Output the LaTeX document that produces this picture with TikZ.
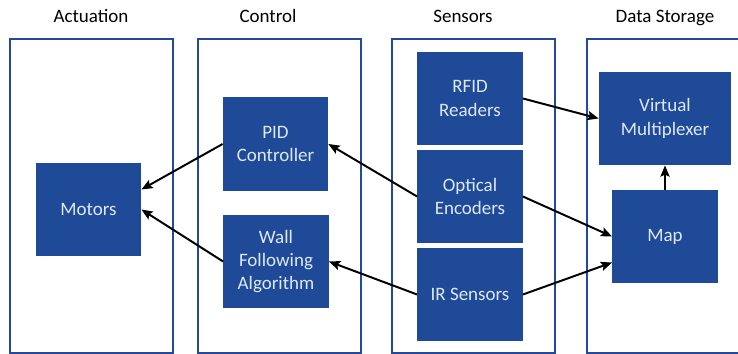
\documentclass[tikz,border=0pt]{standalone}
\usepackage{fontspec}
\setmainfont{Carlito}
\usepackage{xcolor}
\usepackage{tikz}
\usetikzlibrary{calc}
\usetikzlibrary{arrows.meta}

\definecolor{blokblue}{RGB}{31,74,152}
\definecolor{panelblue}{RGB}{36,72,156}
\definecolor{bloktext}{RGB}{222,232,248}

\begin{document}
\begin{tikzpicture}[x=0.025cm,y=-0.025cm,
        panel/.style={draw=panelblue, line width=1.2pt},
        title/.style={font=\fontsize{13.5}{16}\selectfont, text=black, anchor=base},
        blok/.style={fill=blokblue, draw=none, inner sep=0pt, minimum width=2.63cm, minimum height=2.33cm,
            align=center, text=bloktext, font=\fontsize{13.5}{16.5}\selectfont},
        link/.style={-{Stealth[length=8pt,width=6.5pt,inset=1.5pt]}, line width=1.4pt, black}]
        \useasboundingbox (0,0) rectangle (738,354);
        %GRID
        %\draw[lightgray] (0,0) grid[step=20] (738,354);
        %PANEL
        \draw[panel] (10,39) rectangle (173,353);
        \draw[panel] (198,39) rectangle (361,353);
        \draw[panel] (392,39) rectangle (555,353);
        \draw[panel] (587,39) rectangle (760,353);
        \node[title] (tAct) at (91,23) {Actuation};
        \node[title] (tCtl) at (268,23) {Control};
        \node[title] (tSen) at (463,23) {Sensors};
        \node[title] (tDat) at (665,23) {Data Storage};
        %KOTAK
        \node[blok] (Motors) at (88.5,209.5) {Motors};
        \node[blok] (PID) at (275.5,144) {PID\\Controller};
        \node[blok] (Wall) at (276,261.5) {Wall\\Following\\Algorithm};
        \node[blok] (RFID) at (470,98.5) {RFID\\Readers};
        \node[blok] (Optical) at (470,196.5) {Optical\\Encoders};
        \node[blok] (IR) at (470,294.5) {IR Sensors};
        \node[blok, minimum width=3.3cm] (VM) at (665,118.5) {Virtual\\Multiplexer};
        \node[blok] (Map) at (665,236.5) {Map};
        %PANAH
        \draw[link] (PID.west) -- ($(Motors.east)+(0,-20)$);
        \draw[link] (Wall.west) -- (Motors.east);
        \draw[link] (Optical.west) -- (PID.east);
        \draw[link] (IR.west) -- (Wall.east);
        \draw[link] (RFID.east) -- (VM.west);
        \draw[link] (Optical.east) -- (Map.west);
        \draw[link] (IR.east) -- ($(Map.west)+(0,26)$);
        \draw[link] (Map.north) -- (VM.south);
    \end{tikzpicture}
\end{document}
